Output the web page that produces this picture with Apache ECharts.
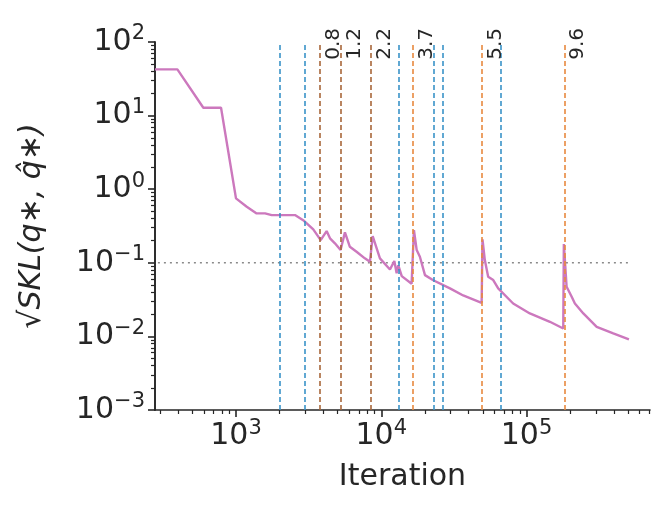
<!DOCTYPE html>
<html>
<head>
<meta charset="utf-8">
<script src="https://cdn.jsdelivr.net/npm/echarts@6/dist/echarts.min.js"></script>
<style>html,body{margin:0;padding:0;background:#fff}</style>
</head>
<body>
<div id="main" style="width:661px;height:505px;"></div>
<script>
    // curve: iteration vs sqrt(SKL)
    var iters = [277, 395, 596, 789, 1000, 1186, 1387, 1585, 1762, 2547, 2938, 3404, 3828, 4207, 4436, 4797, 5248,
        5623, 6081, 6761, 7709, 8356, 8730, 9795, 11482, 12303, 12764, 13092, 13836, 16181, 16788, 17539, 18450,
        19999, 22803, 29717, 36644, 49091, 49774, 51642, 54450, 59020, 63826, 80910, 105439, 144877, 179061,
        180717, 188799, 204644, 215278, 246037, 304089, 395367, 506991];
    var skl = [42.5, 42.5, 12.8, 12.8, 0.75, 0.577, 0.469, 0.469, 0.445, 0.445, 0.372, 0.284, 0.203, 0.27,
        0.215, 0.184, 0.149, 0.259, 0.165, 0.141, 0.115, 0.103, 0.231, 0.115, 0.081, 0.106, 0.072, 0.093, 0.066,
        0.052, 0.278, 0.149, 0.121, 0.068, 0.058, 0.045, 0.036, 0.0286, 0.208, 0.109, 0.0646, 0.0582, 0.0449,
        0.028, 0.0205, 0.0158, 0.0128, 0.18, 0.0472, 0.0345, 0.028, 0.0205, 0.0135, 0.011, 0.0091];
    var blueLines = [2010, 2985, 13240, 23070, 26180, 65620];
    var brownLines = [3830, 5280, 8450];
    var brownLabels = ['0.8', '1.2', '2.2'];
    var orangeLines = [16500, 49300, 181000];
    var orangeLabels = ['3.7', '5.5', '9.6'];
    var refLevel = 0.1;
    var refEnd = 507000;
    var xMin = 277, xMax = 708000;
    var xMajor = [1e3, 1e4, 1e5];
    var yMajor = [1e-3, 1e-2, 1e-1, 1, 10, 100];

    var L = Math.log10;
    var xMinor = [], yMinor = [];
    for (var e = 2; e <= 5; e++) for (var k = 2; k <= 9; k++) {
        var v = k * Math.pow(10, e);
        if (v >= xMin && v <= xMax) xMinor.push(L(v));
    }
    for (var e2 = -3; e2 <= 1; e2++) for (var k2 = 2; k2 <= 9; k2++) yMinor.push(L(k2 * Math.pow(10, e2)));

    var dark = '#262626';
    var rich = {b: {fontSize: 30, color: dark, fontFamily: 'DejaVu Sans'}, s: {fontSize: 21, color: dark, fontFamily: 'DejaVu Sans', verticalAlign: 'top', padding: [0, 0, 16, 0]}};
    function pow10(v) { return '{b|10}{s|' + Math.round(v).toString().replace('-', '−') + '}'; }

    function vline(vals, color, labels) {
        return {
            type: 'line', data: [], xAxisIndex: 0, yAxisIndex: 0, silent: true,
            markLine: {
                symbol: 'none', animation: false,
                lineStyle: {color: color, type: [5, 3], width: 1.6},
                data: vals.map(function (v, i) {
                    return {
                        xAxis: L(v),
                        label: labels ? {show: true, formatter: labels[i], position: 'insideEndBottom', color: dark,
                            fontSize: 20, fontFamily: 'DejaVu Sans', distance: [-14, 4]} : {show: false}
                    };
                })
            }
        };
    }

    var dom = document.getElementById('main');
    var myChart = echarts.init(dom);
    var option = {
        animation: false,
        grid: {left: 155, right: 11, top: 42, bottom: 95},
        xAxis: [
            {
                type: 'value', min: L(xMin), max: L(xMax), position: 'bottom',
                name: 'Iteration', nameLocation: 'middle', nameGap: 52,
                nameTextStyle: {fontSize: 30, color: dark, fontFamily: 'DejaVu Sans'},
                axisLine: {show: true, onZero: false, lineStyle: {color: dark, width: 1.6}},
                axisTick: {length: 7, lineStyle: {color: dark, width: 1.6}, customValues: xMajor.map(L)},
                axisLabel: {customValues: xMajor.map(L), formatter: pow10, rich: rich, margin: 8},
                splitLine: {show: false}
            },
            {
                type: 'value', min: L(xMin), max: L(xMax), position: 'bottom',
                axisLine: {show: false, onZero: false},
                axisTick: {show: true, length: 4, lineStyle: {color: dark, width: 1.2}, customValues: xMinor},
                axisLabel: {show: true, customValues: xMinor, formatter: function () { return ''; }},
                splitLine: {show: false}
            }
        ],
        yAxis: [
            {
                type: 'value', min: -3, max: 2, position: 'left',
                name: '√SKL(q∗, q̂∗)', nameLocation: 'middle', nameGap: 108, nameRotate: 90,
                nameTextStyle: {fontSize: 30, color: dark, fontFamily: 'DejaVu Sans', fontStyle: 'italic'},
                axisLine: {show: true, onZero: false, lineStyle: {color: dark, width: 1.6}},
                axisTick: {show: true, length: 7, lineStyle: {color: dark, width: 1.6}, customValues: yMajor.map(L)},
                axisLabel: {customValues: yMajor.map(L), formatter: pow10, rich: rich, margin: 10},
                splitLine: {show: false}
            },
            {
                type: 'value', min: -3, max: 2, position: 'left', offset: 0,
                axisLine: {show: true, onZero: false, lineStyle: {color: dark, width: 1.6}},
                axisTick: {show: true, length: 4, lineStyle: {color: dark, width: 1.2}, customValues: yMinor},
                axisLabel: {show: true, customValues: yMinor, formatter: function () { return ''; }},
                splitLine: {show: false}
            }
        ],
        series: [
            vline(blueLines, '#3a93c8'),
            vline(brownLines, '#a8673a', brownLabels),
            vline(orangeLines, '#e8893f', orangeLabels),
            {
                type: 'line', symbol: 'none', silent: true,
                data: [[L(xMin) + 0.02, L(refLevel)], [L(refEnd), L(refLevel)]],
                lineStyle: {color: '#8a8a8a', type: [2, 4], width: 1.5}
            },
            {
                type: 'line', symbol: 'none',
                data: iters.map(function (x, i) { return [L(x), L(skl[i])]; }),
                lineStyle: {color: '#cc78bd', width: 2.4}
            },
            {type: 'line', data: [], xAxisIndex: 1, yAxisIndex: 1}
        ]
    };
    myChart.setOption(option);
</script>
</body>
</html>
